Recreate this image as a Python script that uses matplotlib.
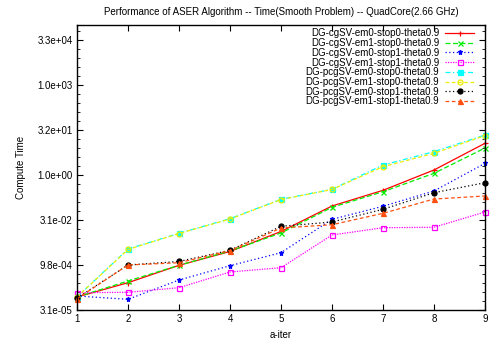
import matplotlib
matplotlib.use('Agg')
import matplotlib.pyplot as plt
import numpy as np
from matplotlib.ticker import FixedLocator, NullFormatter

plt.rcParams['font.family'] = ['Liberation Sans', 'DejaVu Sans']

iters = [1, 2, 3, 4, 5, 6, 7, 8, 9]

cg_em0_stop0 = [8.57e-5, 2.57e-4, 9.77e-4, 2.82e-3, 1.31e-2, 9.27e-2, 0.309, 1.47, 11.4]
cg_em1_stop0 = [8.57e-5, 2.93e-4, 9.77e-4, 2.93e-3, 1.17e-2, 8.38e-2, 0.277, 1.14, 7.94]
cg_em0_stop1 = [9.27e-5, 7.19e-5, 3.16e-4, 9.48e-4, 2.57e-3, 3.33e-2, 9.06e-2, 0.293, 2.45]
cg_em1_stop1 = [1.19e-4, 1.23e-4, 1.75e-4, 5.85e-4, 8.13e-4, 1.0e-2, 1.75e-2, 1.81e-2, 5.85e-2]
pcg_em0_stop0 = [8.57e-5, 3.41e-3, 1.14e-2, 3.49e-2, 0.155, 0.333, 2.15, 5.98, 21.5]
pcg_em1_stop0 = [8.57e-5, 3.29e-3, 1.12e-2, 3.41e-2, 0.152, 0.329, 1.89, 5.28, 20.7]
pcg_em0_stop1 = [7.94e-5, 1.0e-3, 1.31e-3, 3.09e-3, 1.95e-2, 2.71e-2, 7.19e-2, 0.257, 0.553]
pcg_em1_stop1 = [7.53e-5, 1.0e-3, 1.19e-3, 3.04e-3, 1.71e-2, 2.20e-2, 5.28e-2, 0.158, 0.200]

labels = ['DG-cgSV-em0-stop0-theta0.9', 'DG-cgSV-em1-stop0-theta0.9',
          'DG-cgSV-em0-stop1-theta0.9', 'DG-cgSV-em1-stop1-theta0.9',
          'DG-pcgSV-em0-stop0-theta0.9', 'DG-pcgSV-em1-stop0-theta0.9',
          'DG-pcgSV-em0-stop1-theta0.9', 'DG-pcgSV-em1-stop1-theta0.9']

ytick_vals = [10 ** -4.5, 10 ** -3, 10 ** -1.5, 1.0, 10 ** 1.5, 10 ** 3, 10 ** 4.5]
ytick_labels = ['3.1e-05', '9.8e-04', '3.1e-02', '1.0e+00', '3.2e+01', '1.0e+03', '3.3e+04']

series = [cg_em0_stop0, cg_em1_stop0, cg_em0_stop1, cg_em1_stop1,
          pcg_em0_stop0, pcg_em1_stop0, pcg_em0_stop1, pcg_em1_stop1]
styles = [
    dict(color='#ff0000', ls='-', marker='+', mfc='none'),
    dict(color='#00ee00', ls=(0, (4, 2)), marker='x', mfc='none'),
    dict(color='#0000ff', ls=(0, (1, 2)), marker='*', mfc='#0000ff'),
    dict(color='#ff00ff', ls=(0, (1, 1)), marker='s', mfc='none'),
    dict(color='#00ffff', ls=(0, (4, 2, 1, 2)), marker='s', mfc='#00ffff'),
    dict(color='#eeee00', ls=(0, (3, 2)), marker='o', mfc='none'),
    dict(color='#000000', ls=(0, (1, 2)), marker='o', mfc='#000000'),
    dict(color='#ff5010', ls=(0, (3, 2)), marker='^', mfc='#ff5010'),
]

fig = plt.figure(figsize=(4.93, 3.42), dpi=100)
ax = fig.add_axes([77 / 493, 1 - 310 / 342, 408 / 493, 285 / 342])

for vals, lab, st in zip(series, labels, styles):
    ax.plot(iters, vals, label=lab, lw=0.9, ms=3.6, mew=0.9, clip_on=False, **st)

ax.set_yscale('log')
ax.set_xlim(1, 9)
ax.set_ylim(10 ** -4.5, 10 ** 5)
ax.set_xticks(iters)
ax.set_xticklabels([str(i) for i in iters])
ax.set_yticks(ytick_vals)
ax.set_yticklabels(ytick_labels)
minor = []
for lo in np.arange(-4.5, 5.0, 1.5):
    for k in range(1, 5):
        v = lo + 0.3 * k
        if v < 5:
            minor.append(10 ** v)
ax.yaxis.set_minor_locator(FixedLocator(minor))
ax.yaxis.set_minor_formatter(NullFormatter())
ax.tick_params(which='major', direction='in', length=4, width=0.8, top=True, right=True,
               labelsize=7, pad=3)
ax.tick_params(which='minor', direction='in', length=2, width=0.6, right=True, left=True)
ax.tick_params(axis='x', which='minor', bottom=False, top=False)
for sp in ax.spines.values():
    sp.set_linewidth(1.0)

ax.set_title('Performance of ASER Algorithm -- Time(Smooth Problem) -- QuadCore(2.66 GHz)',
             fontsize=7, pad=7)
ax.set_xlabel('a-iter', fontsize=7, labelpad=4)
ax.set_ylabel('Compute Time', fontsize=7, labelpad=8)

ax.legend(loc='upper right', frameon=False, fontsize=7, markerfirst=False,
          handlelength=3.0, handletextpad=0.6, labelspacing=-0.03,
          borderaxespad=0.3, bbox_to_anchor=(0.99, 1.012))

fig.savefig('out.png', dpi=100)
